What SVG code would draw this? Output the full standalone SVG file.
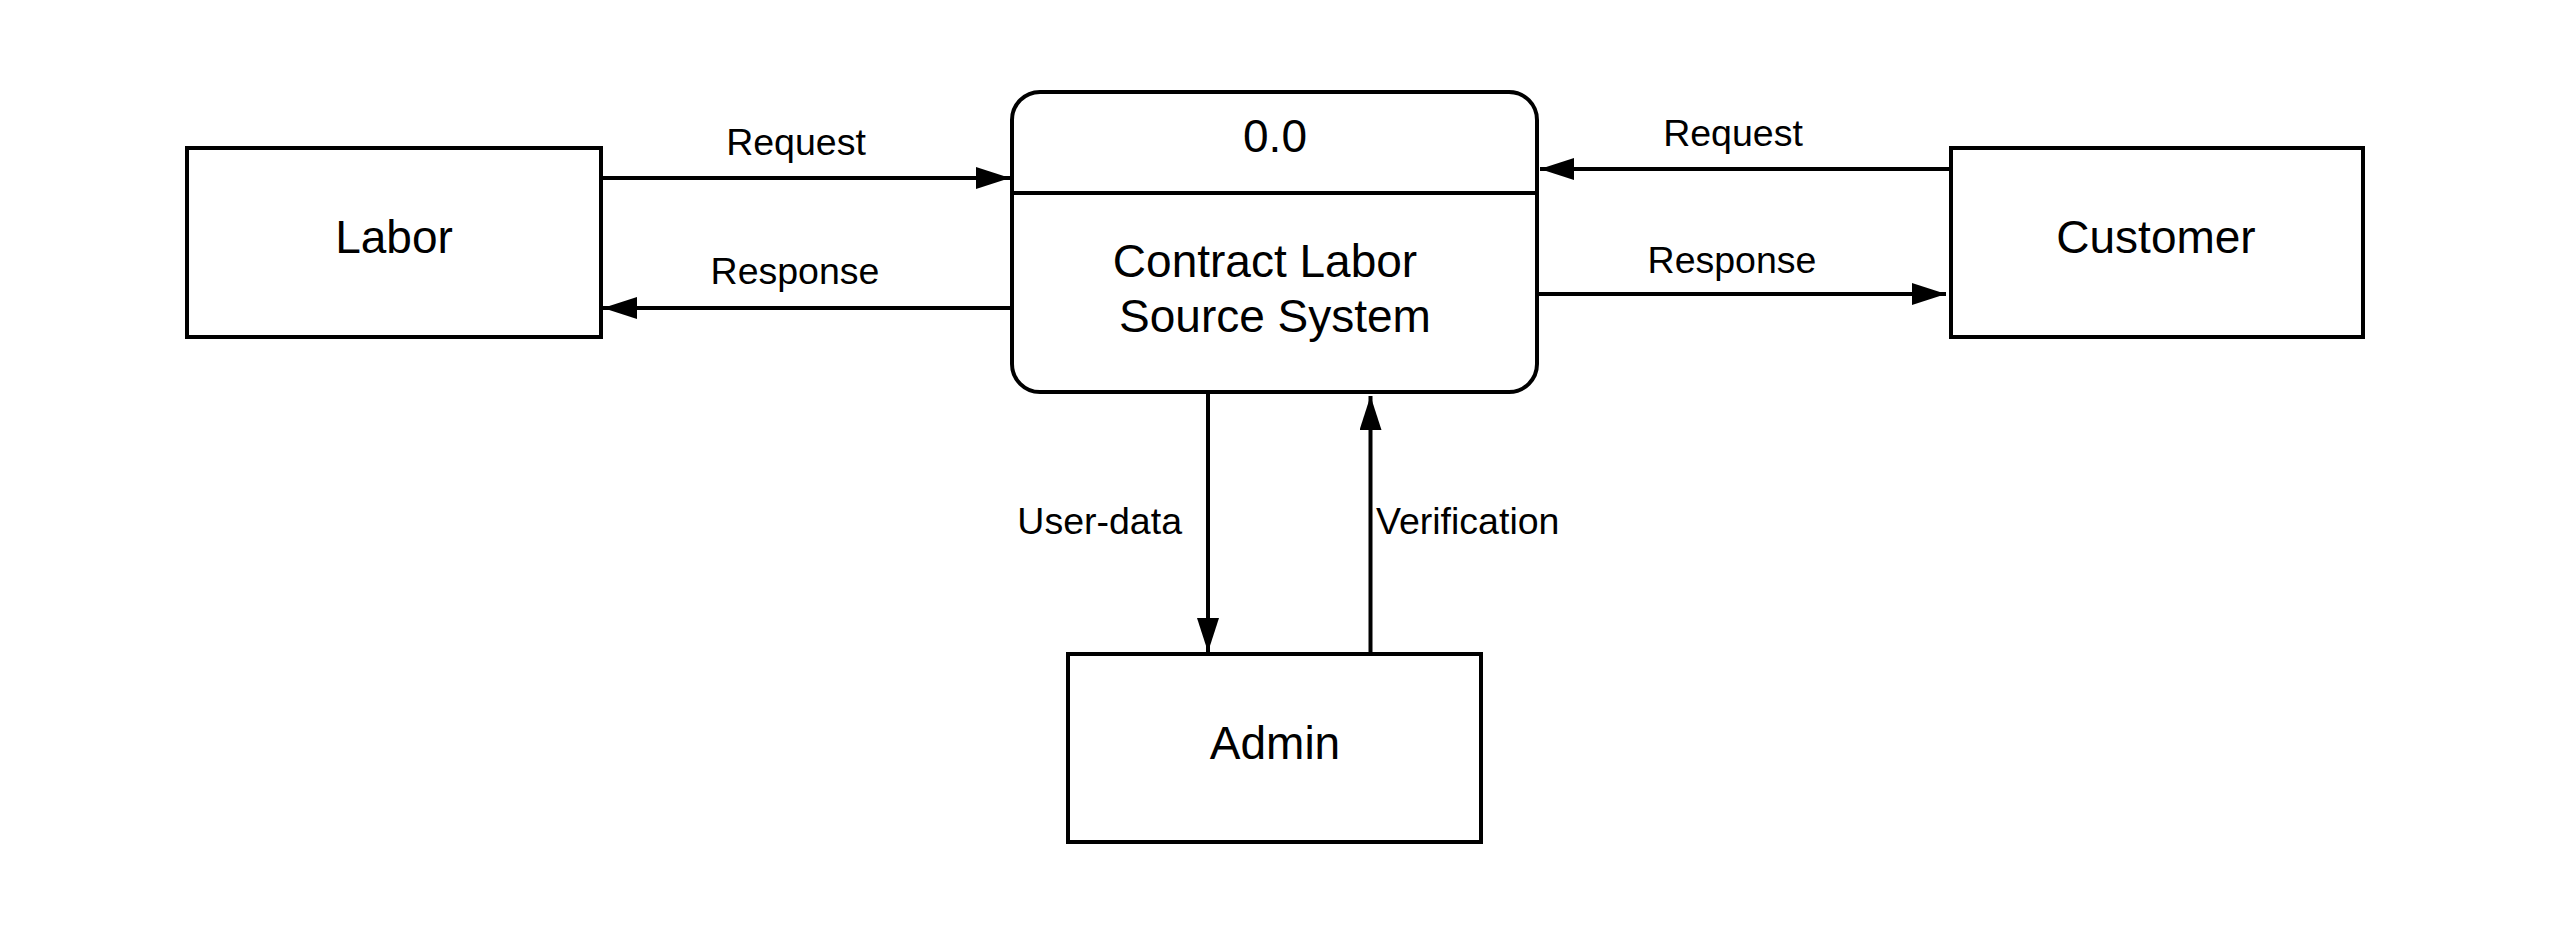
<svg xmlns="http://www.w3.org/2000/svg" width="2550" height="932" viewBox="0 0 2550 932">
<style>
.box{fill:#fff;stroke:#000;stroke-width:4}
.node{font-family:"Liberation Sans",Arial,sans-serif;font-size:46px;fill:#000;text-anchor:middle}
.lbl{font-family:"Liberation Sans",Arial,sans-serif;font-size:37.5px;fill:#000}
.edge{fill:none;stroke:#000;stroke-width:4}
</style>
<defs>
<marker id="arr" markerUnits="userSpaceOnUse" markerWidth="34" markerHeight="22" refX="34" refY="11" orient="auto">
<path d="M0,0 L34,11 L0,22 Z" fill="#000"/>
</marker>
</defs>
<rect width="2550" height="932" fill="#fff"/>
<g id="labor">
<rect class="box" x="187" y="148" width="414" height="189"/>
<text class="node" x="394" y="253">Labor</text>
</g>
<g id="process">
<rect class="box" x="1012" y="92" width="525" height="300" rx="28" ry="28"/>
<line x1="1012" y1="193" x2="1537" y2="193" stroke="#000" stroke-width="4"/>
<text class="node" x="1275" y="152">0.0</text>
<text class="node" x="1265" y="277">Contract Labor</text>
<text class="node" x="1275" y="332">Source System</text>
</g>
<g id="customer">
<rect class="box" x="1951" y="148" width="412" height="189"/>
<text class="node" x="2156" y="253">Customer</text>
</g>
<g id="admin">
<rect class="box" x="1068" y="654" width="413" height="188"/>
<text class="node" x="1275" y="759">Admin</text>
</g>
<g id="connectors">
<line class="edge" x1="601" y1="178" x2="1010" y2="178" marker-end="url(#arr)"/>
<text class="lbl" x="796" y="155" text-anchor="middle">Request</text>
<line class="edge" x1="1012" y1="308" x2="603" y2="308" marker-end="url(#arr)"/>
<text class="lbl" x="795" y="284" text-anchor="middle">Response</text>
<line class="edge" x1="1951" y1="169" x2="1540" y2="169" marker-end="url(#arr)"/>
<text class="lbl" x="1733" y="146" text-anchor="middle">Request</text>
<line class="edge" x1="1537" y1="294" x2="1946" y2="294" marker-end="url(#arr)"/>
<text class="lbl" x="1732" y="273" text-anchor="middle">Response</text>
<line class="edge" x1="1208" y1="392" x2="1208" y2="652" marker-end="url(#arr)"/>
<text class="lbl" x="1182" y="534" text-anchor="end">User-data</text>
<line class="edge" x1="1370.5" y1="654" x2="1370.5" y2="396" marker-end="url(#arr)"/>
<text class="lbl" x="1376" y="534">Verification</text>
</g>
</svg>
